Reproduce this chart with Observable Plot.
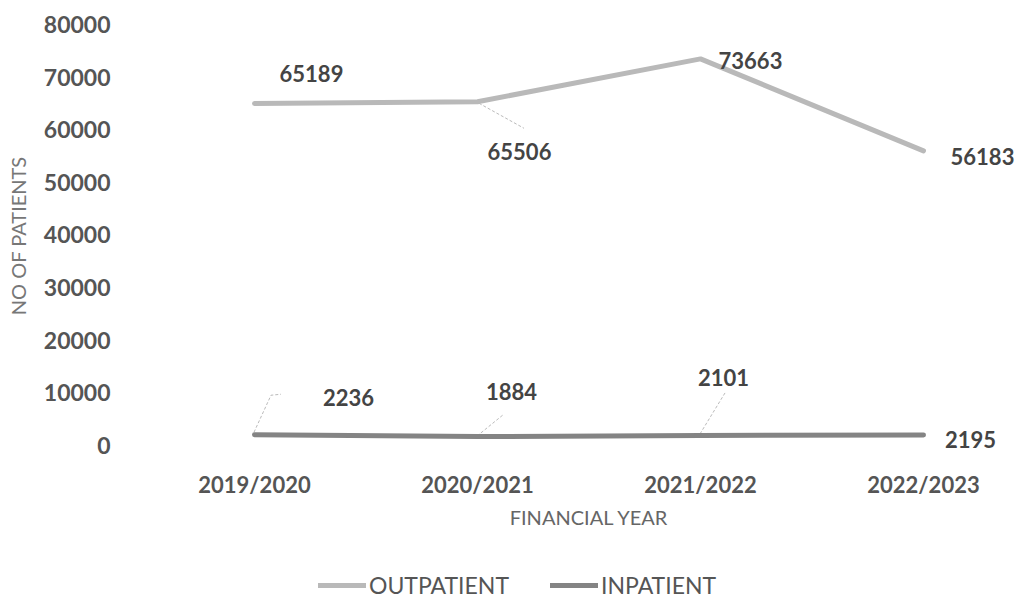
<!DOCTYPE html>
<html>
<head>
<meta charset="utf-8">
<script src="https://cdn.jsdelivr.net/npm/d3@7"></script>
<script src="https://cdn.jsdelivr.net/npm/@observablehq/plot@0.6"></script>
<style>
  html, body { margin: 0; padding: 0; background: #fff; }
  #wrap { position: relative; width: 1018px; height: 601px; overflow: hidden; font-family: Lato, "Open Sans", sans-serif; }
  #legend { position: absolute; top: 571px; left: 0; width: 1018px; height: 28px; }
  .item { position: absolute; display: flex; align-items: center; font-size: 23px; line-height: 28px; color: #555; }
  .sw { display: inline-block; width: 48px; height: 5px; margin-right: 3px; }
</style>
</head>
<body>
<div id="wrap">
  <div id="chart"></div>
  <div id="legend"></div>
</div>
<script>
// ---- data ----
const years = ["2019/2020", "2020/2021", "2021/2022", "2022/2023"];
const seriesNames = ["OUTPATIENT", "INPATIENT"];
const outpatient = [65189, 65506, 73663, 56183];
const inpatient = [2236, 1884, 2101, 2195];
const yTicks = [0, 10000, 20000, 30000, 40000, 50000, 60000, 70000, 80000];
const seriesColors = ["#b9b9b9", "#848484"];

// ---- layout config (pixel offsets of data labels) ----
const labelOffsets = {
  OUTPATIENT: [[57, -28], [42, 51], [50, 3], [59, 7]],
  INPATIENT: [[94, -36], [34, -44], [23, -56], [47, 6]]
};
const leaderPaths = {
  OUTPATIENT: [null, [[2, 2], [47, 27]], null, null],
  INPATIENT: [[[0, -2], [17, -39], [27, -40]], [[0, 0], [27, -22]], [[0, -1], [25, -42]], null]
};

const rows = [];
years.forEach((yr, i) => {
  rows.push({year: yr, value: outpatient[i], series: "OUTPATIENT", i});
  rows.push({year: yr, value: inpatient[i], series: "INPATIENT", i});
});

const labelMarks = rows.map(r => Plot.text([r], {
  x: "year", y: "value", text: d => String(d.value),
  dx: labelOffsets[r.series][r.i][0], dy: labelOffsets[r.series][r.i][1],
  fontSize: 22, fontWeight: 700, fill: "#444", textAnchor: "middle"
}));

const leaders = (index, scales) => {
  const g = d3.create("svg:g");
  rows.forEach(r => {
    const p = leaderPaths[r.series][r.i];
    if (!p) return;
    const x0 = scales.x(r.year), y0 = scales.y(r.value);
    g.append("path")
      .attr("d", d3.line()(p.map(([dx, dy]) => [x0 + dx, y0 + dy])))
      .attr("fill", "none").attr("stroke", "#bbb").attr("stroke-width", 1)
      .attr("stroke-dasharray", "3,2");
  });
  return g.node();
};

const chart = Plot.plot({
  width: 1018,
  height: 560,
  marginTop: 25,
  marginBottom: 114,
  marginLeft: 253,
  marginRight: 95,
  style: {fontFamily: "Lato, 'Open Sans', sans-serif", background: "#fff"},
  x: {type: "point", domain: years, padding: 0},
  y: {domain: [0, 80000]},
  color: {domain: seriesNames, range: seriesColors},
  marks: [
    Plot.axisY({ticks: yTicks, tickSize: 0, tickPadding: 143, fontSize: 23, fontWeight: 700, fill: "#555", label: null, tickFormat: d => String(d)}),
    Plot.axisX({tickSize: 0, tickPadding: 31, fontSize: 22, fontWeight: 700, fill: "#555", label: null}),
    Plot.text(["NO OF PATIENTS"], {frameAnchor: "left", dx: -234, rotate: -90, textAnchor: "middle", fontSize: 20, fill: "#777", text: d => d}),
    Plot.text(["FINANCIAL YEAR"], {frameAnchor: "bottom", dy: 78, fontSize: 20, fill: "#666", text: d => d}),
    leaders,
    Plot.line(rows, {x: "year", y: "value", z: "series", stroke: "series", strokeWidth: 5, strokeLinejoin: "miter"}),
    ...labelMarks
  ]
});
document.getElementById("chart").appendChild(chart);

// ---- legend ----
const color = chart.scale("color");
const legend = document.getElementById("legend");
const legendLeft = {OUTPATIENT: 318, INPATIENT: 550};
seriesNames.forEach(name => {
  const it = document.createElement("div");
  it.className = "item";
  it.style.left = legendLeft[name] + "px";
  const sw = document.createElement("span");
  sw.className = "sw";
  sw.style.background = color.range[color.domain.indexOf(name)];
  it.appendChild(sw);
  it.appendChild(document.createTextNode(name));
  legend.appendChild(it);
});
</script>
</body>
</html>
